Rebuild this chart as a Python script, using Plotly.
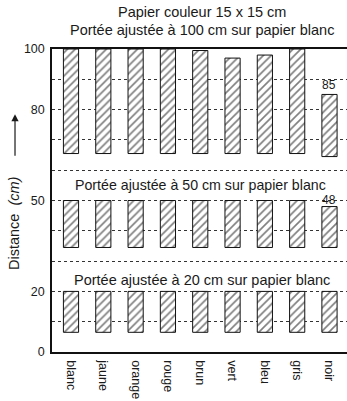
import plotly.graph_objects as go

# Paper colours tested
colours = ["blanc", "jaune", "orange", "rouge", "brun", "vert", "bleu", "gris", "noir"]

# Measured range (cm) for each colour, per calibration on white paper
top_100 = [100, 100, 100, 100, 99.5, 97, 98, 100, 85]
base_100 = [65.5, 65.5, 65.5, 65.5, 65.5, 65.5, 65.5, 65.5, 64.5]
top_50 = [50, 50, 50, 50, 50, 50, 50, 50, 48]
base_50 = [34.5, 34.5, 34.5, 34.5, 34.5, 34.5, 34.5, 34.5, 34.5]
top_20 = [20, 20, 20, 20, 20, 20, 20, 20, 20]
base_20 = [6.5, 6.5, 6.5, 6.5, 6.5, 6.5, 6.5, 6.5, 6.5]

# Y axis ticks: a dashed line every 10 cm, labels only at a few of them
y_tickvals = [0, 10, 20, 30, 40, 50, 60, 70, 80, 90, 100]
y_ticktext = ["0", "", "20", "", "", "50", "", "", "80", "", "100"]

FONT = "Liberation Sans, Arial, Helvetica, sans-serif"
INK = "#1a1a1a"

fig = go.Figure()

pattern = dict(shape="/", size=5.5, solidity=0.3, fgcolor="#000000", fillmode="overlay")
for tops, bases in [(top_100, base_100), (top_50, base_50), (top_20, base_20)]:
    fig.add_trace(go.Bar(
        x=colours,
        y=[t - b for t, b in zip(tops, bases)],
        base=bases,
        width=0.47,
        marker=dict(color="white", line=dict(color="#111111", width=1), pattern=pattern),
        hoverinfo="skip",
        showlegend=False,
    ))

annotations = [
    dict(text="Papier couleur 15 x 15 cm", x=0.507, y=1, xref="paper", yref="paper",
         yanchor="bottom", yshift=27, showarrow=False),
    dict(text="Portée ajustée à 100 cm sur papier blanc", x=0.507, y=1, xref="paper", yref="paper",
         yanchor="bottom", yshift=9, showarrow=False),
    dict(text="Portée ajustée à 50 cm sur papier blanc", x=0.503, y=55.0, xref="paper", yref="y",
         showarrow=False, font=dict(size=14.2)),
    dict(text="Portée ajustée à 20 cm sur papier blanc", x=0.508, y=23.7, xref="paper", yref="y",
         showarrow=False),
    dict(text=str(top_100[-1]), x=colours[-1], y=top_100[-1], xref="x", yref="y",
         yanchor="bottom", yshift=0, showarrow=False, font=dict(size=12)),
    dict(text=str(top_50[-1]), x=colours[-1], y=top_50[-1], xref="x", yref="y",
         yanchor="bottom", yshift=-2, showarrow=False, font=dict(size=12)),
    dict(text="Distance&nbsp; <i>(cm)</i>", x=-0.1288, y=0.4224, xref="paper", yref="paper",
         textangle=-90, showarrow=False, xanchor="center", yanchor="middle"),
    dict(text="", x=-0.1254, y=0.785, xref="paper", yref="paper", showarrow=True,
         ax=0, ay=43, arrowhead=2, arrowsize=1.2, arrowwidth=1.2, arrowcolor=INK),
]

fig.update_layout(
    width=347, height=401,
    margin=dict(l=52, r=0, t=49, b=49),
    paper_bgcolor="white", plot_bgcolor="white",
    font=dict(family=FONT, size=14.5, color=INK),
    barmode="overlay",
    annotations=annotations,
    xaxis=dict(
        type="category", range=[-0.588, 8.542],
        showline=True, linecolor="#111111", linewidth=1.5, mirror=True,
        showgrid=False, ticks="", tickangle=90, ticklabelstandoff=4,
        tickfont=dict(size=12.5, color=INK),
    ),
    yaxis=dict(
        range=[0, 100], tickvals=y_tickvals, ticktext=y_ticktext,
        showline=True, linecolor="#111111", linewidth=1.5,
        showgrid=True, gridcolor="#333333", gridwidth=1, griddash="3px,3px",
        zeroline=False, ticks="", ticklabelstandoff=3,
        tickfont=dict(size=12.5, color=INK),
    ),
)

fig.write_html("out.html")
